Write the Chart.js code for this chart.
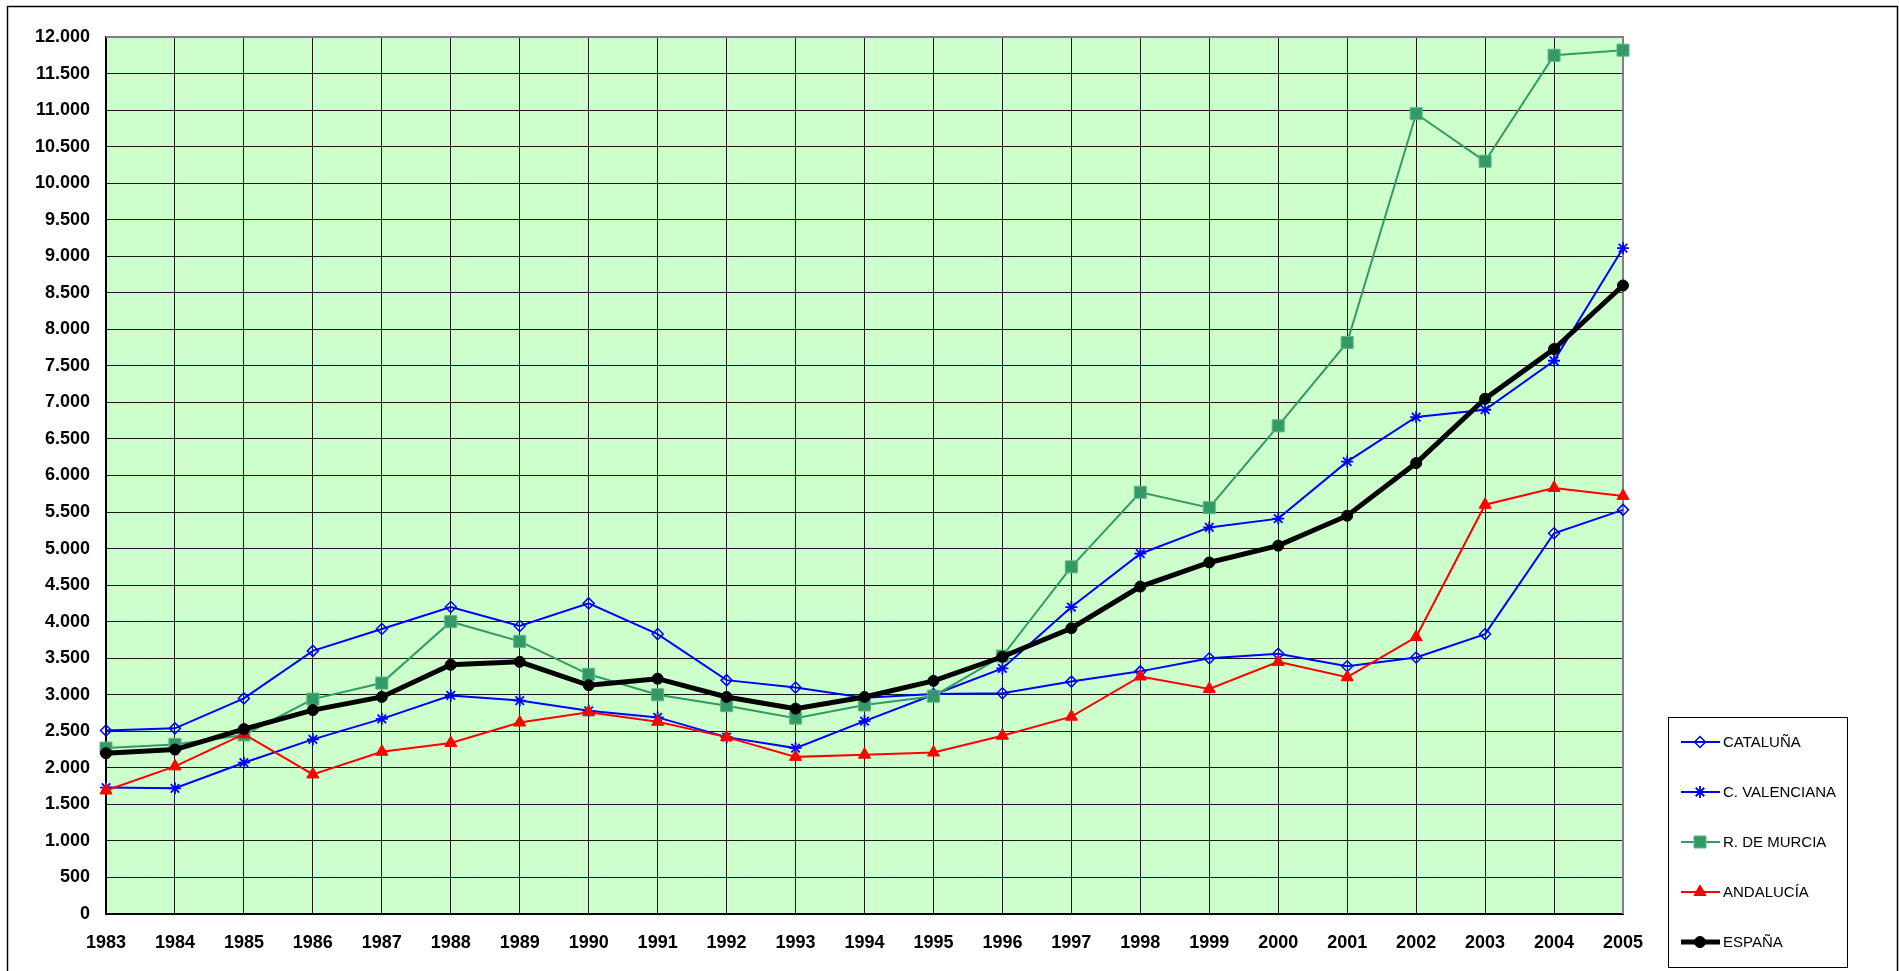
<!DOCTYPE html>
<html>
<head>
<meta charset="utf-8">
<script src="https://cdn.jsdelivr.net/npm/chart.js@4.4.1/dist/chart.umd.min.js"></script>
<style>
  html, body { margin: 0; padding: 0; background: #fff; }
  #wrap { width: 1899px; height: 971px; }
</style>
</head>
<body>
<div id="wrap"><canvas id="chart-line"></canvas></div>
<script>
const years = ['1983', '1984', '1985', '1986', '1987', '1988', '1989', '1990', '1991', '1992', '1993', '1994',
  '1995', '1996', '1997', '1998', '1999', '2000', '2001', '2002', '2003', '2004', '2005'];

const cataluna = [2510, 2540, 2950, 3600, 3900, 4200, 3940, 4250, 3830, 3200, 3100, 2960,
  3010, 3020, 3180, 3320, 3500, 3560, 3390, 3510, 3830, 5210, 5530];
const cValenciana = [1730, 1720, 2070, 2390, 2670, 2990, 2920, 2780, 2690, 2420, 2270, 2640,
  3000, 3360, 4200, 4930, 5290, 5410, 6190, 6800, 6900, 7570, 9110];
const murcia = [2270, 2320, 2450, 2940, 3160, 4000, 3730, 3280, 3000, 2850, 2680, 2860,
  2980, 3530, 4750, 5770, 5560, 6680, 7820, 10950, 10300, 11750, 11820];
const andalucia = [1690, 2020, 2460, 1910, 2220, 2340, 2620, 2760, 2630, 2420, 2150, 2180,
  2210, 2440, 2700, 3250, 3080, 3450, 3240, 3790, 5600, 5830, 5720];
const espana = [2200, 2250, 2530, 2790, 2970, 3410, 3450, 3130, 3220, 2970, 2810, 2970,
  3190, 3520, 3910, 4480, 4810, 5040, 5450, 6170, 7050, 7730, 8600];

const yMin = 0;
const yMax = 12000;
const yStep = 500;

const fontFamily = 'Arial, "Liberation Sans", sans-serif';

function formatThousands(v) {
  return String(v).replace(/\B(?=(\d{3})+(?!\d))/g, '.');
}

// frame, plot background and the gray top/right border
const plotArea = {
  id: 'plotArea',
  beforeDraw(chart) {
    const { ctx, chartArea: a } = chart;
    ctx.save();
    ctx.fillStyle = '#fff';
    ctx.fillRect(0, 0, chart.width, chart.height);
    ctx.strokeStyle = '#000';
    ctx.lineWidth = 1.5;
    ctx.strokeRect(7.5, 6.5, 1890, 975);
    ctx.fillStyle = '#ccffcc';
    ctx.fillRect(a.left, a.top, a.right - a.left, a.bottom - a.top);
    ctx.restore();
  },
  beforeDatasetsDraw(chart) {
    const { ctx, chartArea: a } = chart;
    ctx.save();
    ctx.strokeStyle = '#808080';
    ctx.lineWidth = 2;
    ctx.beginPath();
    ctx.moveTo(a.left, a.top);
    ctx.lineTo(a.right, a.top);
    ctx.lineTo(a.right, a.bottom);
    ctx.stroke();
    ctx.restore();
  }
};

// legend box drawn in the lower right corner
const boxLegend = {
  id: 'boxLegend',
  afterDraw(chart) {
    const { ctx } = chart;
    ctx.save();
    ctx.fillStyle = '#fff';
    ctx.fillRect(1668, 717, 179, 250);
    ctx.strokeStyle = '#000';
    ctx.lineWidth = 1;
    ctx.strokeRect(1668.5, 717.5, 179, 250);
    ctx.font = '15px ' + fontFamily;
    ctx.textBaseline = 'middle';
    ctx.textAlign = 'left';
    chart.data.datasets.forEach((ds, i) => {
      const y = 742 + i * 50;
      ctx.strokeStyle = ds.borderColor;
      ctx.lineWidth = ds.borderWidth;
      ctx.beginPath();
      ctx.moveTo(1681, y);
      ctx.lineTo(1720, y);
      ctx.stroke();
      ctx.fillStyle = ds.pointBackgroundColor;
      ctx.strokeStyle = ds.pointBorderColor;
      ctx.lineWidth = ds.pointBorderWidth;
      Chart.helpers.drawPoint(ctx, {
        pointStyle: ds.pointStyle,
        radius: ds.pointRadius,
        rotation: 0,
        borderWidth: ds.pointBorderWidth
      }, 1700, y);
      ctx.fillStyle = '#000';
      ctx.fillText(ds.label, 1723, y + 1);
    });
    ctx.restore();
  }
};

const datasets = [
  {
    label: 'CATALUÑA',
    data: cataluna,
    borderColor: '#0000ff',
    borderWidth: 2,
    pointStyle: 'rectRot',
    pointRadius: 5.5,
    pointBorderWidth: 1.5,
    pointBorderColor: '#0000ff',
    pointBackgroundColor: 'rgba(0,0,0,0)',
    order: 4
  },
  {
    label: 'C. VALENCIANA',
    data: cValenciana,
    borderColor: '#0000ff',
    borderWidth: 2,
    pointStyle: 'star',
    pointRadius: 6,
    pointBorderWidth: 1.8,
    pointBorderColor: '#0000ff',
    pointBackgroundColor: '#0000ff',
    order: 3
  },
  {
    label: 'R. DE MURCIA',
    data: murcia,
    borderColor: '#339966',
    borderWidth: 2,
    pointStyle: 'rect',
    pointRadius: 8.5,
    pointBorderWidth: 1,
    pointBorderColor: '#5cb887',
    pointBackgroundColor: '#339966',
    order: 2
  },
  {
    label: 'ANDALUCÍA',
    data: andalucia,
    borderColor: '#ff0000',
    borderWidth: 2,
    pointStyle: 'triangle',
    pointRadius: 7,
    pointBorderWidth: 1,
    pointBorderColor: '#ff0000',
    pointBackgroundColor: '#ff0000',
    order: 1
  },
  {
    label: 'ESPAÑA',
    data: espana,
    borderColor: '#000000',
    borderWidth: 5,
    pointStyle: 'circle',
    pointRadius: 5.5,
    pointBorderWidth: 1,
    pointBorderColor: '#000000',
    pointBackgroundColor: '#000000',
    order: 0
  }
].map(ds => Object.assign(ds, { fill: false, tension: 0, clip: false, pointHoverRadius: ds.pointRadius }));

new Chart(document.getElementById('chart-line'), {
  type: 'line',
  data: { labels: years, datasets },
  options: {
    responsive: true,
    maintainAspectRatio: false,
    animation: false,
    events: [],
    layout: { padding: { top: 37, right: 276, bottom: 0, left: 0 } },
    plugins: {
      legend: { display: false },
      tooltip: { enabled: false }
    },
    scales: {
      x: {
        offset: false,
        afterFit(scale) { scale.height = 57; },
        grid: { color: '#1a1a1a', lineWidth: 1, tickLength: 0, drawTicks: false },
        border: { color: '#000', width: 2 },
        ticks: {
          color: '#000',
          padding: 18,
          maxRotation: 0,
          autoSkip: false,
          font: { family: fontFamily, size: 18, weight: 'bold' }
        }
      },
      y: {
        min: yMin,
        max: yMax,
        afterFit(scale) { scale.width = 106; },
        grid: { color: '#1a1a1a', lineWidth: 1, tickLength: 0, drawTicks: false },
        border: { color: '#000', width: 2 },
        ticks: {
          stepSize: yStep,
          color: '#000',
          padding: 16,
          font: { family: fontFamily, size: 18, weight: 'bold' },
          callback: v => formatThousands(v)
        }
      }
    }
  },
  plugins: [plotArea, boxLegend]
});
</script>
</body>
</html>
